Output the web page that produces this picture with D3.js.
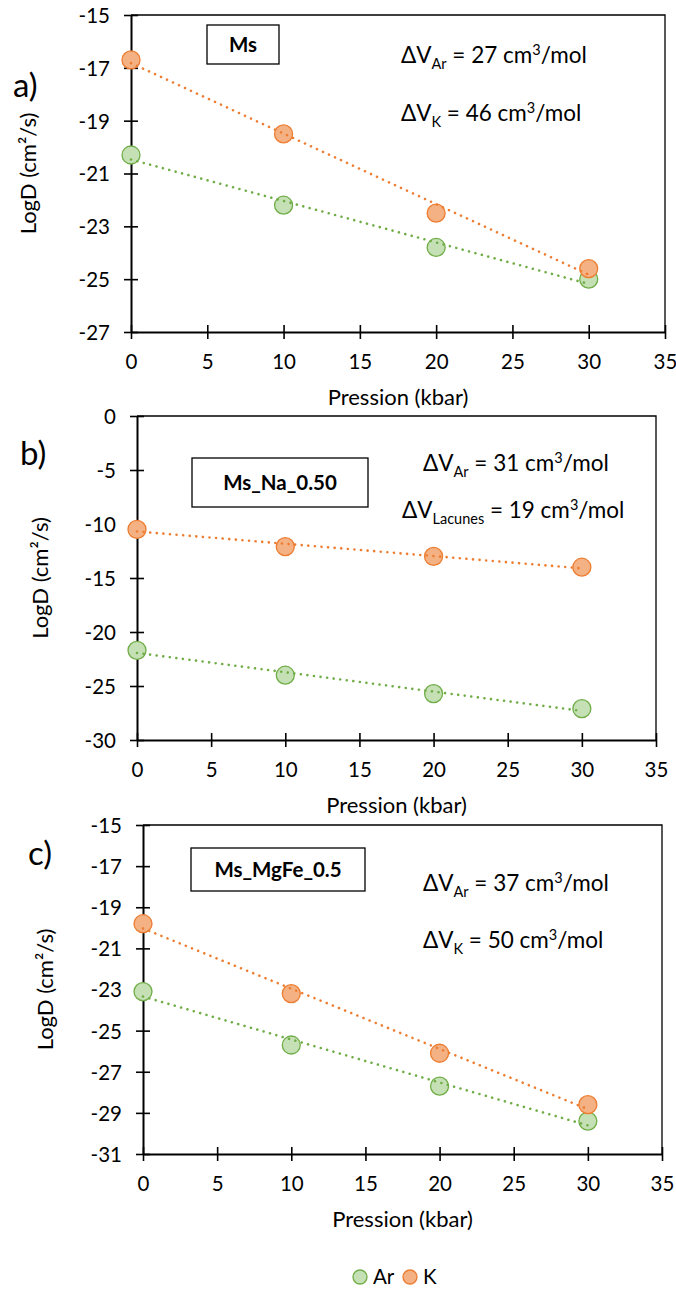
<!DOCTYPE html>
<html>
<head>
<meta charset="utf-8">
<script src="https://cdn.jsdelivr.net/npm/d3@7"></script>
<style>
  html, body { margin: 0; padding: 0; background: #fff; }
  svg { display: block; }
  text { font-family: Lato, "Open Sans", sans-serif; fill: #000; }
</style>
</head>
<body>
<svg id="chart" width="676" height="1289"></svg>
<script>
// ---------- data ----------
const pressure = [0, 10, 20, 30];
const arA = [-20.3, -22.2, -23.8, -25.0];
const kA  = [-16.7, -19.5, -22.5, -24.6];
const arB = [-21.7, -24.0, -25.7, -27.1];
const kB  = [-10.5, -12.1, -13.0, -14.0];
const arC = [-23.1, -25.7, -27.7, -29.4];
const kC  = [-19.8, -23.2, -26.1, -28.6];
const xTicks  = [0, 5, 10, 15, 20, 25, 30, 35];
const yTicksA = [-15, -17, -19, -21, -23, -25, -27];
const yTicksB = [0, -5, -10, -15, -20, -25, -30];
const yTicksC = [-15, -17, -19, -21, -23, -25, -27, -29, -31];
const panelLabels = ["a)", "b)", "c)"];
const sampleNames = ["Ms", "Ms_Na_0.50", "Ms_MgFe_0.5"];
const dvSubs = [["Ar", "K"], ["Ar", "Lacunes"], ["Ar", "K"]];
const dvValues = [[27, 46], [31, 19], [37, 50]];
const seriesNames = ["Ar", "K"];
const xTitle = "Pression (kbar)";
const yTitle = "LogD (cm\u00B2/s)";

// ---------- styles ----------
const lineCol = ["#70ad47", "#ed7d31"];
const fillCol = ["#c5e0b4", "#f4b183"];
const FS = 20.5;
const TFS = 22;

// ---------- layout (pixels) ----------
const layout = [
  { x0: 131, x1: 665, y0: 15,  y1: 332, yTicks: yTicksA, series: [arA, kA],
    lab: [13, 85], yTitleX: 28, box: [207, 25, 279, 64], dv: [[401, 55], [401, 113]] },
  { x0: 137, x1: 656, y0: 416, y1: 740, yTicks: yTicksB, series: [arB, kB],
    lab: [20, 453], yTitleX: 40, box: [192, 458, 368, 507], dv: [[423, 463], [402, 510]] },
  { x0: 143, x1: 662, y0: 825, y1: 1154, yTicks: yTicksC, series: [arC, kC],
    lab: [28, 853], yTitleX: 45, box: [191, 848, 365, 891], dv: [[423, 883], [423, 940]] }
];

const svg = d3.select("#chart");

function linreg(xs, ys) {
  const n = xs.length, mx = d3.mean(xs), my = d3.mean(ys);
  let num = 0, den = 0;
  for (let i = 0; i < n; i++) { num += (xs[i] - mx) * (ys[i] - my); den += (xs[i] - mx) ** 2; }
  const b = num / den;
  return { a: my - b * mx, b };
}

layout.forEach((p, pi) => {
  const g = svg.append("g");
  const yDom = d3.extent(p.yTicks);
  const x = d3.scaleLinear().domain([0, 35]).range([p.x0, p.x1]);
  const y = d3.scaleLinear().domain(yDom).range([p.y1, p.y0]);

  // plot-area border (top/right)
  g.append("path")
    .attr("d", `M${p.x0},${p.y0}H${p.x1}V${p.y1}`)
    .attr("fill", "none").attr("stroke", "#000").attr("stroke-width", 1.3);

  // x axis
  const xAxis = d3.axisBottom(x).tickValues(xTicks).tickSizeInner(7).tickSizeOuter(0).tickPadding(10);
  const gx = g.append("g").attr("transform", `translate(0,${p.y1})`).call(xAxis);
  gx.select(".domain").attr("stroke", "#000").attr("stroke-width", 2);
  gx.selectAll(".tick line").attr("y1", -7).attr("y2", 7).attr("stroke", "#000").attr("stroke-width", 1.6);
  gx.selectAll(".tick text").attr("font-size", FS).attr("font-family", "Lato")
    .attr("y", 30).attr("dy", "0.36em").attr("fill", "#000");

  // y axis
  const yAxis = d3.axisLeft(y).tickValues(p.yTicks).tickSizeInner(7).tickSizeOuter(0)
    .tickFormat(d => d === 0 ? "0" : String(d).replace("\u2212", "-"));
  const gy = g.append("g").attr("transform", `translate(${p.x0},0)`).call(yAxis);
  gy.select(".domain").attr("stroke", "#000").attr("stroke-width", 2);
  gy.selectAll(".tick line").attr("x1", -7).attr("x2", 7).attr("stroke", "#000").attr("stroke-width", 1.6);
  gy.selectAll(".tick text").attr("font-size", FS).attr("font-family", "Lato")
    .attr("x", -21).attr("dy", "0.36em").attr("fill", "#000");

  // axis titles
  g.append("text").attr("x", (p.x0 + p.x1) / 2).attr("y", p.y1 + 65).attr("dy", "0.36em")
    .attr("text-anchor", "middle").attr("font-size", TFS).text(xTitle);
  g.append("text").attr("transform", `translate(${p.yTitleX},${(p.y0 + p.y1) / 2}) rotate(-90)`)
    .attr("dy", "0.36em").attr("text-anchor", "middle").attr("font-size", TFS).text(yTitle);

  // panel label
  g.append("text").attr("x", p.lab[0]).attr("y", p.lab[1]).attr("dy", "0.36em")
    .attr("font-size", 33).text(panelLabels[pi]);

  // sample box
  const [bx0, by0, bx1, by1] = p.box;
  g.append("rect").attr("x", bx0).attr("y", by0).attr("width", bx1 - bx0).attr("height", by1 - by0)
    .attr("fill", "#fff").attr("stroke", "#000").attr("stroke-width", 1.3);
  g.append("text").attr("x", (bx0 + bx1) / 2).attr("y", (by0 + by1) / 2).attr("dy", "0.36em")
    .attr("text-anchor", "middle").attr("font-size", FS).attr("font-weight", "bold").text(sampleNames[pi]);

  // Delta V annotations
  p.dv.forEach(([tx, ty], k) => {
    const t = g.append("text").attr("x", tx).attr("y", ty + 8).attr("font-size", 22.5);
    t.append("tspan").text("\u0394V");
    t.append("tspan").attr("font-size", 14.5).attr("dy", 6).text(dvSubs[pi][k]);
    t.append("tspan").attr("dy", -6).text(" = " + dvValues[pi][k] + " cm");
    t.append("tspan").attr("font-size", 14.5).attr("dy", -8).text("3");
    t.append("tspan").attr("dy", 8).text("/mol");
  });

  // markers
  p.series.forEach((vals, si) => {
    g.append("g").selectAll("circle").data(pressure).join("circle")
      .attr("cx", d => x(d)).attr("cy", (d, i) => y(vals[i])).attr("r", 9)
      .attr("fill", fillCol[si]).attr("stroke", lineCol[si]).attr("stroke-width", 1.3);
  });
  // trendlines (linear fit, dotted) drawn on top
  p.series.forEach((vals, si) => {
    const r = linreg(pressure, vals);
    const xs = d3.extent(pressure);
    g.append("line")
      .attr("x1", x(xs[0])).attr("y1", y(r.a + r.b * xs[0]))
      .attr("x2", x(xs[1])).attr("y2", y(r.a + r.b * xs[1]))
      .attr("stroke", lineCol[si]).attr("stroke-width", 2.6)
      .attr("stroke-linecap", "round").attr("stroke-dasharray", "0.01 6.6");
  });
});

// legend
const leg = svg.append("g");
const legItems = [{ cx: 360, tx: 373 }, { cx: 410, tx: 423 }];
seriesNames.forEach((nm, i) => {
  leg.append("circle").attr("cx", legItems[i].cx).attr("cy", 1277).attr("r", 7)
    .attr("fill", fillCol[i]).attr("stroke", lineCol[i]).attr("stroke-width", 1.3);
  leg.append("text").attr("x", legItems[i].tx).attr("y", 1277).attr("dy", "0.36em")
    .attr("font-size", FS).text(nm);
});
</script>
</body>
</html>
